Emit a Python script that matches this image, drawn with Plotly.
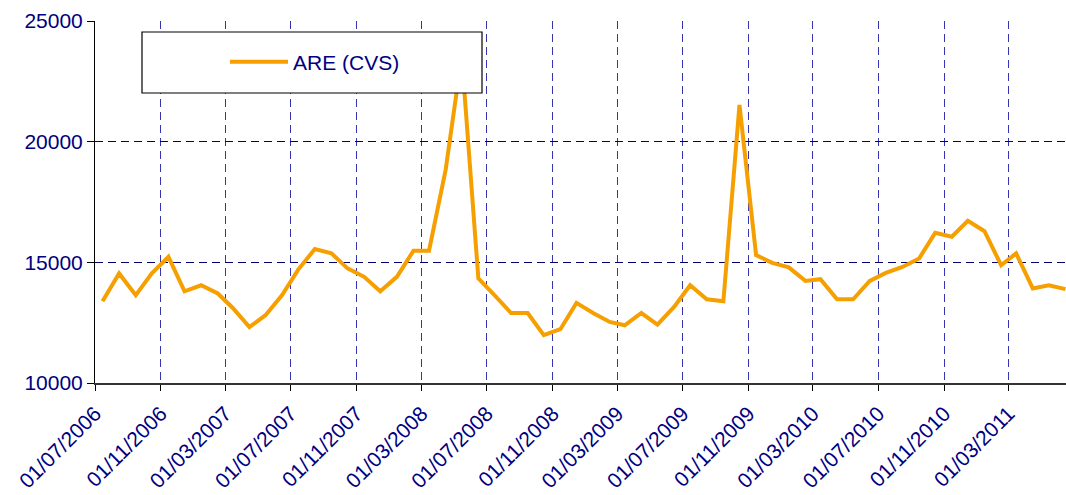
import plotly.graph_objects as go

# ---- data ----
start_year, start_month = 2006, 7
values = [
    13390, 14540, 13640, 14540, 15230, 13800, 14050, 13710, 13110, 12320, 12810, 13640,
    14700, 15550, 15370, 14750, 14400, 13800, 14400, 15480, 15480, 18830, 23550, 14330,
    13640, 12900, 12900, 11980, 12230, 13320, 12900, 12530, 12390, 12900, 12420, 13150,
    14050, 13470, 13390, 21520, 15300, 14980, 14790, 14230, 14300, 13470, 13470, 14230,
    14560, 14810, 15160, 16220, 16060, 16720, 16290, 14880, 15370, 13920, 14050, 13890,
]
dates = []
y, m = start_year, start_month
for _ in values:
    dates.append(f"{y:04d}-{m:02d}-15")
    m += 1
    if m > 12:
        m = 1
        y += 1

tick_vals = ["2006-07-01", "2006-11-01", "2007-03-01", "2007-07-01", "2007-11-01",
             "2008-03-01", "2008-07-01", "2008-11-01", "2009-03-01", "2009-07-01",
             "2009-11-01", "2010-03-01", "2010-07-01", "2010-11-01", "2011-03-01"]
tick_text = ["/".join(reversed(t.split("-"))) for t in tick_vals]
y_tick_vals = [10000, 15000, 20000, 25000]
y_tick_text = ["10000", "15000", "20000", "25000"]
series_name = "ARE (CVS)"

# ---- layout geometry ----
W, H = 1066, 495
ML, MR, MT, MB = 95, 0, 21, 112
PW, PH = W - ML - MR, H - MT - MB

def px_x(px):
    return (px - ML) / PW

def px_y(py):
    return 1 - (py - MT) / PH

navy = "#000080"
font_family = "Arial, Liberation Sans, sans-serif"

fig = go.Figure()
fig.add_trace(go.Scatter(
    x=dates, y=values, mode="lines", name=series_name,
    line=dict(color="#F5A000", width=4),
))

fig.add_shape(type="rect", xref="paper", yref="paper",
              x0=px_x(142), x1=px_x(482), y0=px_y(93), y1=px_y(32),
              fillcolor="white", line=dict(color="black", width=1.2), layer="above")

fig.update_layout(
    width=W, height=H,
    margin=dict(l=ML, r=MR, t=MT, b=MB, pad=0, autoexpand=False),
    paper_bgcolor="white", plot_bgcolor="white",
    font=dict(family=font_family, color=navy, size=21),
    showlegend=True,
    legend=dict(
        x=px_x(225), y=px_y(62), xanchor="left", yanchor="middle",
        bgcolor="rgba(0,0,0,0)", borderwidth=0,
        font=dict(size=21, color=navy, family=font_family),
        itemwidth=58,
    ),
    xaxis=dict(
        type="date",
        range=["2006-07-01", "2011-06-16"],
        tickmode="array", tickvals=tick_vals, ticktext=tick_text,
        tickangle=-45,
        tickfont=dict(size=21, color=navy),
        ticks="outside", ticklen=6, tickcolor="black", tickwidth=1,
        ticklabelstandoff=2,
        showline=True, linecolor="#333333", linewidth=2,
        showgrid=True, gridcolor="#3535B0", gridwidth=1, griddash="8px,5px",
        zeroline=False,
    ),
    yaxis=dict(
        range=[10000, 25000],
        tickmode="array", tickvals=y_tick_vals, ticktext=y_tick_text,
        tickfont=dict(size=21, color=navy),
        ticks="outside", ticklen=7, tickcolor="black", tickwidth=1,
        showline=True, linecolor="black", linewidth=1,
        showgrid=True, gridcolor="#000070", gridwidth=1, griddash="8px,5px",
        zeroline=False,
    ),
)

fig.write_html(
    "out.html",
    config={"displayModeBar": False},
    post_script="document.body.style.margin='0';document.body.style.overflow='hidden';",
)
